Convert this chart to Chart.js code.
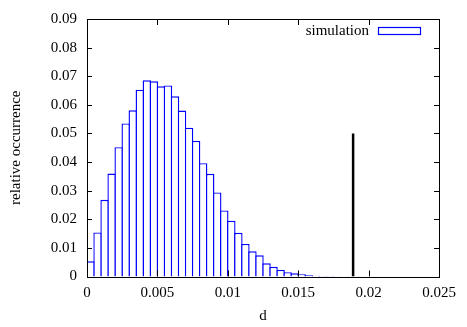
<!DOCTYPE html>
<html>
<head>
<meta charset="utf-8">
<script src="https://cdn.jsdelivr.net/npm/chart.js@4.4.0/dist/chart.umd.min.js"></script>
<style>
  html, body { margin: 0; padding: 0; background: #fff; }
  #wrap { width: 467px; height: 327px; }
</style>
</head>
<body>
<div id="wrap"><canvas id="histChart" width="467" height="327"></canvas></div>
<script>
// histogram bins, width 0.0005 starting at d = 0
const binWidth = 0.0005;
const occurrence = [
  0.0053, 0.0154, 0.0268, 0.0360, 0.0452, 0.0535, 0.0581, 0.0653, 0.0686, 0.0682,
  0.0665, 0.0668, 0.0630, 0.0580, 0.0520, 0.0474, 0.0396, 0.0359, 0.0294, 0.0231,
  0.0195, 0.0153, 0.0114, 0.0088, 0.0074, 0.0046, 0.0034, 0.0023, 0.0015, 0.0011,
  0.0008, 0.0004, 0.0003, 0.0002, 0.0002, 0.0001, 0.0001, 0.00005, 0.00005, 0.00003,
  0.00002, 0.00001
];

// vertical marker line
const markerD = 0.0189;
const markerTop = 0.05;

const xTickLabels = ["0", "0.005", "0.01", "0.015", "0.02", "0.025"];
const yTickLabels = ["0", "0.01", "0.02", "0.03", "0.04", "0.05", "0.06", "0.07", "0.08", "0.09"];

const serif = "'Liberation Serif', 'DejaVu Serif', serif";
Chart.defaults.font.family = serif;
Chart.defaults.font.size = 15;
Chart.defaults.color = "#000";

// frame round the plot with inward ticks on all four sides (gnuplot style)
const frameTicks = {
    id: "frameTicks",
    afterDraw(chart) {
        let ctx = chart.ctx;
        let a = chart.chartArea;
        let x = chart.scales.x;
        let y = chart.scales.y;
        ctx.save();
        ctx.strokeStyle = "#000";
        ctx.lineWidth = 1;
        ctx.beginPath();
        x.ticks.forEach(t => {
            let px = Math.round(x.getPixelForValue(t.value)) + 0.5;
            ctx.moveTo(px, a.bottom); ctx.lineTo(px, a.bottom - 6);
            ctx.moveTo(px, a.top); ctx.lineTo(px, a.top + 6);
        });
        y.ticks.forEach(t => {
            let py = Math.round(y.getPixelForValue(t.value)) + 0.5;
            ctx.moveTo(a.left, py); ctx.lineTo(a.left + 5, py);
            ctx.moveTo(a.right, py); ctx.lineTo(a.right - 5, py);
        });
        ctx.stroke();
        ctx.strokeRect(Math.round(a.left) + 0.5, Math.round(a.top) + 0.5,
            Math.round(a.right - a.left), Math.round(a.bottom - a.top));
        ctx.restore();
    }
};

// key in the top right corner: text, then an outlined box
const keyBox = {
    id: "keyBox",
    afterDraw(chart) {
        let ctx = chart.ctx;
        let a = chart.chartArea;
        let ds = chart.data.datasets[0];
        ctx.save();
        ctx.font = "15px " + serif;
        ctx.fillStyle = "#000";
        ctx.textAlign = "right";
        ctx.textBaseline = "middle";
        ctx.fillText(ds.label, a.right - 70, a.top + 12);
        ctx.strokeStyle = ds.borderColor;
        ctx.lineWidth = 1.2;
        ctx.strokeRect(Math.round(a.right - 61) + 0.5, Math.round(a.top + 8) + 0.5, 42, 7);
        ctx.restore();
    }
};

let ctx = document.getElementById("histChart").getContext("2d");

new Chart(ctx, {
    type: "bar",
    data: {
        datasets: [
            {
                type: "bar",
                label: "simulation",
                data: occurrence.map((v, i) => ({ x: (i + 0.5) * binWidth, y: v })),
                backgroundColor: "#fff",
                borderColor: "#0000ff",
                borderWidth: 1.4,
                barPercentage: 1.2,
                categoryPercentage: 1,
                order: 2
            },
            {
                type: "line",
                label: "marker",
                data: [{ x: markerD, y: 0 }, { x: markerD, y: markerTop }],
                borderColor: "#000",
                borderWidth: 2.5,
                pointRadius: 0,
                fill: false,
                order: 1
            }
        ]
    },
    options: {
        responsive: false,
        animation: false,
        layout: { padding: { left: 0, right: 28, top: 19, bottom: 0 } },
        plugins: {
            legend: { display: false },
            tooltip: { enabled: false }
        },
        scales: {
            x: {
                type: "linear",
                min: 0,
                max: 0.025,
                offset: false,
                grid: { display: false, drawTicks: false },
                border: { display: false },
                ticks: {
                    stepSize: 0.005,
                    padding: 8,
                    maxRotation: 0,
                    autoSkip: false,
                    callback: (v, i) => xTickLabels[i]
                },
                title: { display: true, text: "d", padding: { top: 0, bottom: 2 } },
                afterFit: s => { s.height = 50.5; }
            },
            y: {
                min: 0,
                max: 0.09,
                grid: { display: false, drawTicks: false },
                border: { display: false },
                ticks: {
                    stepSize: 0.01,
                    padding: 10,
                    autoSkip: false,
                    callback: (v, i) => yTickLabels[i]
                },
                title: { display: true, text: "relative occurrence", padding: { top: 7, bottom: 0 } },
                afterFit: s => { s.width = 87; }
            }
        }
    },
    plugins: [frameTicks, keyBox]
});
</script>
</body>
</html>
